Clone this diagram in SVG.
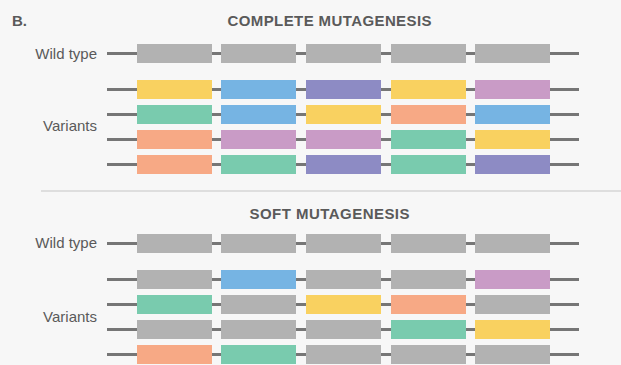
<svg xmlns="http://www.w3.org/2000/svg" width="621" height="365" viewBox="0 0 621 365">
<style>
.bg{fill:#f7f7f7}
.ln{stroke:#767676;stroke-width:3;fill:none}
.sep{stroke:#dedede;stroke-width:2}
.t{font-family:"Liberation Sans",Arial,sans-serif;fill:#5a5a5a}
.title{font-weight:bold;font-size:15px;letter-spacing:1px;text-anchor:middle}
.lab{font-size:15px;text-anchor:end}
.g{fill:#b2b2b2}.y{fill:#f9d160}.b{fill:#76b4e3}.p{fill:#8d8bc4}.m{fill:#c99bc6}.n{fill:#79cbae}.s{fill:#f7a985}
</style>
<rect class="bg" x="0" y="0" width="621" height="365"/>
<text class="t" x="12" y="26" style="font-weight:bold;font-size:15px">B.</text>
<g id="connectors">
<line class="ln" x1="107" y1="53.5" x2="579" y2="53.5"/>
<line class="ln" x1="107" y1="89.5" x2="579" y2="89.5"/>
<line class="ln" x1="107" y1="114.5" x2="579" y2="114.5"/>
<line class="ln" x1="107" y1="139.5" x2="579" y2="139.5"/>
<line class="ln" x1="107" y1="164.5" x2="579" y2="164.5"/>
<line class="ln" x1="107" y1="243.5" x2="579" y2="243.5"/>
<line class="ln" x1="107" y1="279.5" x2="579" y2="279.5"/>
<line class="ln" x1="107" y1="304.5" x2="579" y2="304.5"/>
<line class="ln" x1="107" y1="329.5" x2="579" y2="329.5"/>
<line class="ln" x1="107" y1="354.5" x2="579" y2="354.5"/>
</g>
<line class="sep" x1="41" y1="191" x2="621" y2="191"/>
<g id="complete">
<text class="t title" x="330" y="26" textLength="205" lengthAdjust="spacing">COMPLETE MUTAGENESIS</text>
<text class="t lab" x="97" y="59">Wild type</text>
<text class="t lab" x="97" y="131">Variants</text>
<g id="c-wt">
<rect class="g" x="137" y="44" width="75" height="19"/><rect class="g" x="221" y="44" width="75" height="19"/><rect class="g" x="306" y="44" width="75" height="19"/><rect class="g" x="391" y="44" width="75" height="19"/><rect class="g" x="475" y="44" width="75" height="19"/>
</g>
<g id="c-v1">
<rect class="y" x="137" y="80" width="75" height="19"/><rect class="b" x="221" y="80" width="75" height="19"/><rect class="p" x="306" y="80" width="75" height="19"/><rect class="y" x="391" y="80" width="75" height="19"/><rect class="m" x="475" y="80" width="75" height="19"/>
</g>
<g id="c-v2">
<rect class="n" x="137" y="105" width="75" height="19"/><rect class="b" x="221" y="105" width="75" height="19"/><rect class="y" x="306" y="105" width="75" height="19"/><rect class="s" x="391" y="105" width="75" height="19"/><rect class="b" x="475" y="105" width="75" height="19"/>
</g>
<g id="c-v3">
<rect class="s" x="137" y="130" width="75" height="19"/><rect class="m" x="221" y="130" width="75" height="19"/><rect class="m" x="306" y="130" width="75" height="19"/><rect class="n" x="391" y="130" width="75" height="19"/><rect class="y" x="475" y="130" width="75" height="19"/>
</g>
<g id="c-v4">
<rect class="s" x="137" y="155" width="75" height="19"/><rect class="n" x="221" y="155" width="75" height="19"/><rect class="p" x="306" y="155" width="75" height="19"/><rect class="n" x="391" y="155" width="75" height="19"/><rect class="p" x="475" y="155" width="75" height="19"/>
</g>
</g>
<g id="soft">
<text class="t title" x="330" y="219" textLength="161" lengthAdjust="spacing">SOFT MUTAGENESIS</text>
<text class="t lab" x="97" y="248">Wild type</text>
<text class="t lab" x="97" y="322">Variants</text>
<g id="s-wt">
<rect class="g" x="137" y="234" width="75" height="19"/><rect class="g" x="221" y="234" width="75" height="19"/><rect class="g" x="306" y="234" width="75" height="19"/><rect class="g" x="391" y="234" width="75" height="19"/><rect class="g" x="475" y="234" width="75" height="19"/>
</g>
<g id="s-v1">
<rect class="g" x="137" y="270" width="75" height="19"/><rect class="b" x="221" y="270" width="75" height="19"/><rect class="g" x="306" y="270" width="75" height="19"/><rect class="g" x="391" y="270" width="75" height="19"/><rect class="m" x="475" y="270" width="75" height="19"/>
</g>
<g id="s-v2">
<rect class="n" x="137" y="295" width="75" height="19"/><rect class="g" x="221" y="295" width="75" height="19"/><rect class="y" x="306" y="295" width="75" height="19"/><rect class="s" x="391" y="295" width="75" height="19"/><rect class="g" x="475" y="295" width="75" height="19"/>
</g>
<g id="s-v3">
<rect class="g" x="137" y="320" width="75" height="19"/><rect class="g" x="221" y="320" width="75" height="19"/><rect class="g" x="306" y="320" width="75" height="19"/><rect class="n" x="391" y="320" width="75" height="19"/><rect class="y" x="475" y="320" width="75" height="19"/>
</g>
<g id="s-v4">
<rect class="s" x="137" y="345" width="75" height="19"/><rect class="n" x="221" y="345" width="75" height="19"/><rect class="g" x="306" y="345" width="75" height="19"/><rect class="g" x="391" y="345" width="75" height="19"/><rect class="g" x="475" y="345" width="75" height="19"/>
</g>
</g>
</svg>
